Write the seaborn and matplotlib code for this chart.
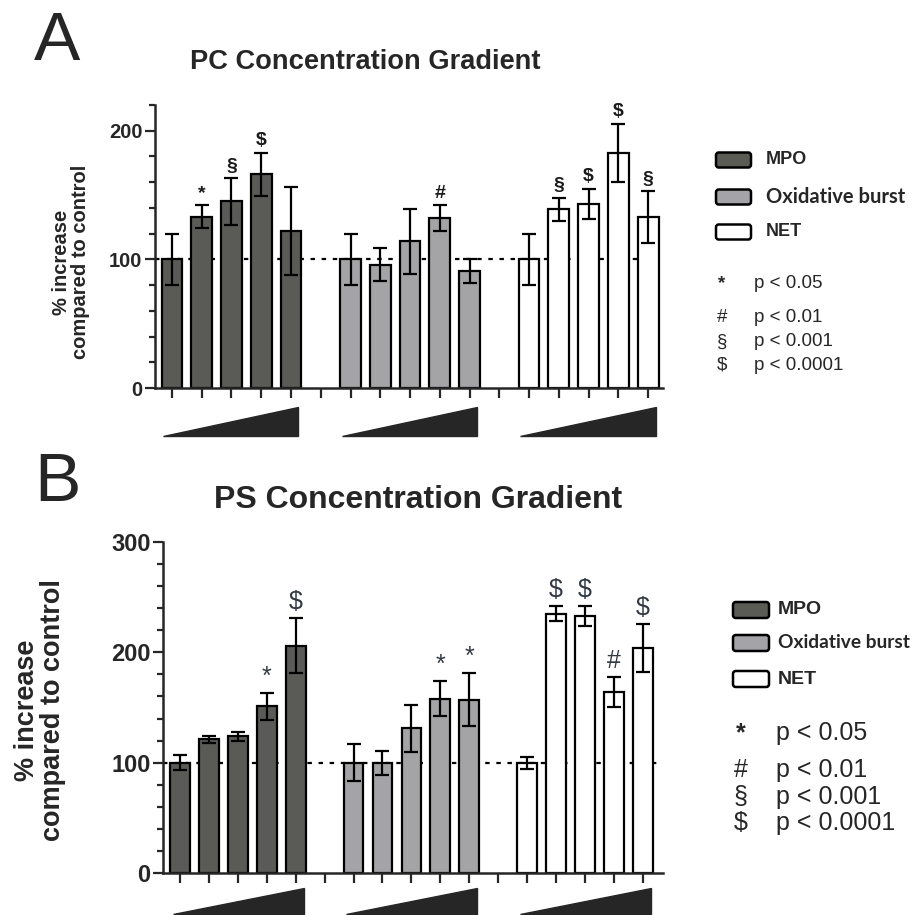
import numpy as np
import pandas as pd
import matplotlib
matplotlib.use('Agg')
import matplotlib.pyplot as plt
from matplotlib.patches import FancyBboxPatch
import seaborn as sns

# --- data ---
groups = ['MPO', 'Oxidative burst', 'NET']
group_colors = ['#5b5b56', '#a3a3a8', '#ffffff']
positions = [0, 1, 2, 3, 4, 6, 7, 8, 9, 10, 12, 13, 14, 15, 16]
group_of_bar = ['MPO'] * 5 + ['Oxidative burst'] * 5 + ['NET'] * 5

pc_mean = [100, 133, 145, 166, 122, 100, 96, 114, 132, 91, 100, 139, 143, 183, 133]
pc_err = [20, 9, 18, 17, 34, 20, 13, 25, 10, 9.5, 20, 9, 12, 22.5, 20]
pc_marks = ['', '*', '§', '$', '', '', '', '', '#', '', '', '§', '$', '$', '§']

ps_mean = [100, 121, 124, 151, 206, 100, 100, 131, 158, 157, 100, 235, 233, 164, 204]
ps_err = [7, 3, 4, 12, 25, 16.5, 11, 21, 16, 24, 5.5, 7, 9, 13.5, 21.5]
ps_marks = ['', '', '', '*', '$', '', '', '', '*', '*', '', '$', '$', '#', '$']

sig_symbols = ['*', '#', '§', '$']
sig_labels = ['p < 0.05', 'p < 0.01', 'p < 0.001', 'p < 0.0001']

W, H = 914, 915
sns.set_style('ticks')
plt.rcParams['font.family'] = ['Liberation Sans', 'DejaVu Sans']

fig = plt.figure(figsize=(W / 100, H / 100), dpi=100)


def fx(x):
    return x / W


def fy(y):
    return 1 - y / H


def draw_panel(ax, means, errs, marks, ymax, tick_fs, mark_kw, tri, bar_w):
    df = pd.DataFrame({'pos': positions, 'value': means, 'group': group_of_bar})
    sns.barplot(data=df, x='pos', y='value', hue='group', hue_order=groups,
                palette=group_colors, native_scale=True, dodge=False,
                errorbar=None, width=bar_w, edgecolor='black', linewidth=1.6,
                legend=False, ax=ax, zorder=2)
    ax.errorbar(positions, means, yerr=errs, fmt='none', ecolor='black',
                elinewidth=1.6, capsize=5, capthick=1.6, zorder=3)
    ax.axhline(100, color='black', ls=(0, (2, 3)), lw=1.6, zorder=1)
    for p, m, e, s in zip(positions, means, errs, marks):
        if s:
            ax.text(p, m + e + ymax * 0.012, s, ha='center', va='bottom', **mark_kw)
    # concentration wedges under each group
    x0, x1, ytop, ybot = tri
    for start in (0, 6, 12):
        ax.fill([start + x0, start + x1, start + x1], [ybot, ybot, ytop],
                color='#262626', clip_on=False, zorder=2)
    ax.set_ylim(0, ymax)
    ax.set_yticks([0, 100, 200] + ([300] if ymax >= 300 else []))
    ax.set_yticks(np.arange(0, ymax + 1, 20), minor=True)
    ax.set_xticks(range(17))
    ax.set_xticklabels([])
    ax.set_xlabel('')
    ax.set_ylabel('')
    for lab in ax.get_yticklabels():
        lab.set_fontweight('bold')
        lab.set_fontsize(tick_fs)
    ax.tick_params(axis='y', which='major', length=7, width=1.6, pad=2)
    ax.tick_params(axis='y', which='minor', length=4, width=1.6)
    ax.tick_params(axis='x', length=7, width=1.6)
    for sp in ['top', 'right']:
        ax.spines[sp].set_visible(False)
    for sp in ['left', 'bottom']:
        ax.spines[sp].set_linewidth(1.8)


# Panel A
axA = fig.add_axes([fx(155), fy(388), fx(663 - 155), (388 - 105) / H])
draw_panel(axA, pc_mean, pc_err, pc_marks, 220, 14.5,
           dict(fontsize=14, fontweight='bold', color='#1a1a1a'),
           (-0.3, 4.25, -15, -37), 0.7)
axA.set_xlim(-0.57, 16.5)

# Panel B
axB = fig.add_axes([fx(163), fy(873), fx(663 - 163), (873 - 542) / H])
draw_panel(axB, ps_mean, ps_err, ps_marks, 300, 17,
           dict(fontsize=18, color='#333a44'),
           (-0.25, 4.27, -14, -37), 0.68)
axB.set_xlim(-0.59, 16.7)

# panel letters, titles, y labels
fig.text(fx(57), fy(42), 'A', fontsize=50, ha='center', va='center')
fig.text(fx(57), fy(483), 'B', fontsize=50, ha='center', va='center')
fig.text(fx(365), fy(62), 'PC Concentration Gradient', fontsize=19.6,
         fontweight='bold', ha='center', va='center')
fig.text(fx(418), fy(500), 'PS Concentration Gradient', fontsize=23,
         fontweight='bold', ha='center', va='center')
fig.text(fx(71), fy(262), '% increase\ncompared to control', fontsize=14.5,
         fontweight='bold', rotation=90, ha='center', va='center',
         multialignment='center', linespacing=1.0)
fig.text(fx(40), fy(710), '% increase\ncompared to control', fontsize=19.5,
         fontweight='bold', rotation=90, ha='center', va='center',
         multialignment='center', linespacing=1.0)


def draw_legend(box_x, box_w, box_h, rows_y, text_x, name_fs, ob_fs,
                sym_x, val_x, sig_y, sig_fs):
    for name, col, y in zip(groups, group_colors, rows_y):
        fig.patches.append(FancyBboxPatch(
            (fx(box_x), fy(y + box_h / 2)), box_w / W, box_h / H,
            boxstyle='round,pad=0,rounding_size=0.003', transform=fig.transFigure,
            facecolor=col, edgecolor='black', linewidth=1.8))
        if name == 'Oxidative burst':
            fig.text(fx(text_x), fy(y), name, fontsize=ob_fs, fontweight='bold',
                     family=['Lato', 'DejaVu Sans'], ha='left', va='center')
        else:
            fig.text(fx(text_x), fy(y), name, fontsize=name_fs, fontweight='bold',
                     ha='left', va='center')
    for s, lab, y in zip(sig_symbols, sig_labels, sig_y):
        fig.text(fx(sym_x), fy(y), s, fontsize=sig_fs, ha='center', va='center',
                 fontweight='bold' if s == '*' else 'normal')
        fig.text(fx(val_x), fy(y), lab, fontsize=sig_fs, ha='left', va='center')


draw_legend(716, 35, 15, [160, 197, 232], 766, 13, 14.5, 722, 754,
            [284, 318, 342, 365], 13.5)
draw_legend(733, 36, 16, [610, 643, 679], 778, 14, 13.8, 741, 776,
            [733, 770, 797, 823], 18)

fig.savefig('out.png', dpi=100)
